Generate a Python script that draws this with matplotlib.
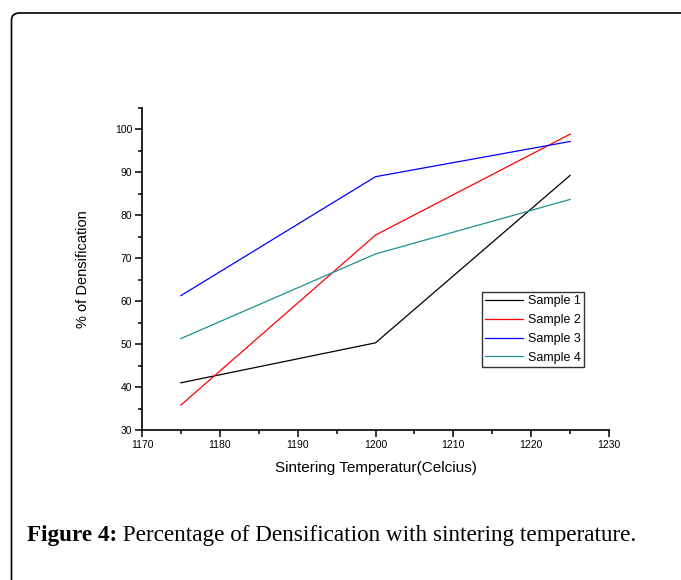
import matplotlib.pyplot as plt
from matplotlib.patches import FancyBboxPatch
from matplotlib.ticker import MultipleLocator

# data
temps = [1175, 1200, 1225]
sample1 = [41.0, 50.3, 89.3]
sample2 = [35.8, 75.4, 98.9]
sample3 = [61.3, 89.0, 97.2]
sample4 = [51.3, 71.0, 83.7]
labels = ["Sample 1", "Sample 2", "Sample 3", "Sample 4"]
colors = ["black", "#ff0000", "#0000ff", "#209090"]

W, H = 681, 580
fig = plt.figure(figsize=(W / 100, H / 100), dpi=100)

# rounded frame around the figure panel
frame = FancyBboxPatch((11.5 / W, -0.1), 1.2, 1 - 13 / H + 0.1,
                       boxstyle="round,pad=0,rounding_size=0.012",
                       transform=fig.transFigure, fill=False,
                       edgecolor="black", linewidth=1.2, clip_on=False)
fig.patches.append(frame)

ax = fig.add_axes([142 / W, 1 - 430 / H, (609 - 142) / W, (430 - 108) / H])
for ys, lab, c in zip([sample1, sample2, sample3, sample4], labels, colors):
    ax.plot(temps, ys, color=c, linewidth=0.9, label=lab)

ax.set_xlim(1170, 1230)
ax.set_ylim(30, 105)
ax.xaxis.set_major_locator(MultipleLocator(10))
ax.xaxis.set_minor_locator(MultipleLocator(5))
ax.yaxis.set_minor_locator(MultipleLocator(5))
ax.set_yticks([30, 40, 50, 60, 70, 80, 90, 100])
ax.spines["top"].set_visible(False)
ax.spines["right"].set_visible(False)
for s in ["left", "bottom"]:
    ax.spines[s].set_linewidth(1.2)
ax.tick_params(which="major", direction="out", length=5, width=1.1,
               labelsize=7.5, pad=2)
ax.tick_params(which="minor", direction="out", length=3, width=1.1)
for t in ax.get_xticklabels() + ax.get_yticklabels():
    t.set_fontfamily("Liberation Sans")

ax.set_xlabel("Sintering Temperatur(Celcius)", fontsize=11,
              family="Liberation Sans", labelpad=8)
ax.set_ylabel("% of Densification", fontsize=10.5,
              family="Liberation Sans", labelpad=18)

leg = ax.legend(loc="upper left", bbox_to_anchor=((482 - 142) / 467, (430 - 292) / 322),
                prop={"family": "Liberation Sans", "size": 9},
                frameon=True, fancybox=False, handlelength=3.0, handletextpad=0.4,
                borderpad=0.25, labelspacing=0.55, borderaxespad=0)
leg.get_frame().set_edgecolor("black")
leg.get_frame().set_linewidth(1.0)

cap = fig.text(27 / W, 1 - 541 / H, "Figure 4:", fontsize=16.7, fontweight="bold",
               family="Liberation Serif", va="baseline", ha="left")
plt.annotate(" Percentage of Densification with sintering temperature.",
             xy=(1, 0), xycoords=cap, va="bottom", ha="left",
             fontsize=16.7, family="Liberation Serif",
             annotation_clip=False)

fig.savefig("out.png", dpi=100)
